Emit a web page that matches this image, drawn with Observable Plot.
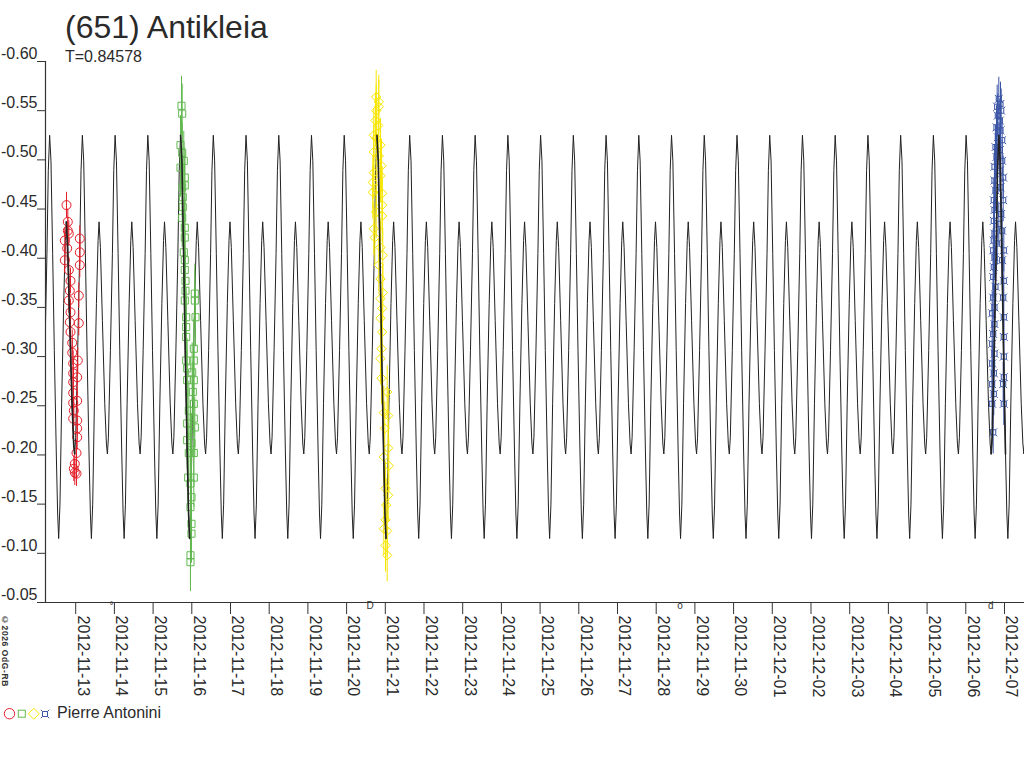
<!DOCTYPE html>
<html>
<head>
<meta charset="utf-8">
<script src="https://cdn.jsdelivr.net/npm/d3@7"></script>
<script src="https://cdn.jsdelivr.net/npm/@observablehq/plot@0.6"></script>
<style>
  body { margin: 0; background: #fff; font-family: "Liberation Sans", Arial, sans-serif; color: #2a2a2a; }
  #wrap { position: relative; width: 1024px; height: 768px; overflow: hidden; }
  #chart { position: absolute; left: 0; top: 0; }
  #title { position: absolute; left: 65px; top: 11px; font-size: 32px; line-height: 32px; white-space: nowrap; }
  #subtitle { position: absolute; left: 65px; top: 49px; font-size: 16px; line-height: 16px; white-space: nowrap; }
  #legend { position: absolute; left: 0; top: 700px; height: 24px; width: 300px; }
  #legend svg { position: absolute; left: 0; top: 0; }
  #legend span { position: absolute; left: 57px; top: 5px; font-size: 16px; line-height: 16px; white-space: nowrap; }
  #copy { position: absolute; left: 0px; top: 615px; font-size: 8.5px; line-height: 9px; font-weight: bold; letter-spacing: 0.6px; writing-mode: vertical-rl; white-space: nowrap; color: #333; }
</style>
</head>
<body>
<div id="wrap">
  <div id="chart"></div>
  <div id="title">(651) Antikleia</div>
  <div id="subtitle">T=0.84578</div>
  <div id="copy">©2026 OdG-RB</div>
  <div id="legend"></div>
</div>
<script>
// Times are JD − 2456240
const JD0 = 2456240;
const xDomainJd = [3.7196, 29.0171];
const yTicks = [-0.60, -0.55, -0.50, -0.45, -0.40, -0.35, -0.30, -0.25, -0.20, -0.15, -0.10, -0.05];
const xTickFirst = "2012-11-13";
const xTickLast = "2012-12-07";

// Model lightcurve: one cycle (phase from primary maximum)
const modelEpoch = 13.13;
const modelPeriod = 0.84578;
const modelPhase = [0, 0.041, 0.092, 0.143, 0.204, 0.245, 0.276, 0.316, 0.367, 0.429, 0.48, 0.51, 0.551, 0.612, 0.684, 0.735, 0.765, 0.796, 0.857, 0.918, 0.959];
const modelMag = [-0.525, -0.499, -0.405, -0.306, -0.201, -0.140, -0.115, -0.150, -0.252, -0.354, -0.418, -0.437, -0.411, -0.337, -0.252, -0.211, -0.201, -0.218, -0.306, -0.405, -0.489];

// Session 1 (red circles)
const redJd = [4.262, 4.296, 4.296, 4.218, 4.322, 4.280, 4.606, 4.606, 4.606, 4.218, 4.322, 4.366, 4.348, 4.580, 4.322, 4.366, 4.580, 4.348, 4.366, 4.410, 4.410, 4.554, 4.435, 4.435, 4.435, 4.539, 4.435, 4.539, 4.435, 4.451, 4.435, 4.539, 4.539, 4.539, 4.521, 4.477, 4.477, 4.451, 4.521];
const redMag = [-0.454, -0.437, -0.428, -0.418, -0.425, -0.410, -0.420, -0.406, -0.393, -0.398, -0.388, -0.377, -0.367, -0.362, -0.357, -0.345, -0.334, -0.335, -0.325, -0.314, -0.304, -0.296, -0.293, -0.283, -0.274, -0.279, -0.263, -0.255, -0.253, -0.245, -0.237, -0.235, -0.227, -0.218, -0.202, -0.191, -0.182, -0.186, -0.181];

// Session 2 (green squares)
const greenJd = [7.234, 7.252, 7.208, 7.252, 7.293, 7.208, 7.319, 7.252, 7.319, 7.267, 7.267, 7.252, 7.319, 7.319, 7.293, 7.319, 7.319, 7.337, 7.337, 7.578, 7.578, 7.319, 7.596, 7.355, 7.355, 7.355, 7.552, 7.355, 7.552, 7.381, 7.510, 7.552, 7.381, 7.526, 7.552, 7.423, 7.552, 7.381, 7.466, 7.578, 7.381, 7.492, 7.552, 7.423, 7.407, 7.552, 7.466, 7.492, 7.466, 7.492, 7.492, 7.466, 7.466];
const greenMag = [-0.555, -0.547, -0.515, -0.507, -0.499, -0.492, -0.482, -0.472, -0.474, -0.462, -0.452, -0.441, -0.431, -0.421, -0.406, -0.398, -0.388, -0.377, -0.367, -0.364, -0.357, -0.357, -0.340, -0.340, -0.330, -0.320, -0.308, -0.296, -0.296, -0.288, -0.284, -0.276, -0.276, -0.264, -0.252, -0.245, -0.237, -0.232, -0.225, -0.228, -0.215, -0.212, -0.202, -0.202, -0.177, -0.177, -0.171, -0.157, -0.147, -0.130, -0.120, -0.098, -0.091];

// Session 3 (yellow diamonds)
const yellowJd = [12.265, 12.332, 12.265, 12.332, 12.247, 12.317, 12.203, 12.265, 12.376, 12.203, 12.332, 12.402, 12.203, 12.376, 12.177, 12.265, 12.420, 12.177, 12.420, 12.265, 12.420, 12.203, 12.229, 12.376, 12.435, 12.332, 12.376, 12.435, 12.376, 12.420, 12.376, 12.420, 12.402, 12.376, 12.402, 12.549, 12.461, 12.575, 12.487, 12.575, 12.461, 12.591, 12.505, 12.575, 12.523, 12.505, 12.549, 12.461, 12.505, 12.549];
const yellowMag = [-0.564, -0.559, -0.550, -0.554, -0.540, -0.535, -0.525, -0.522, -0.515, -0.508, -0.504, -0.494, -0.487, -0.484, -0.477, -0.471, -0.466, -0.467, -0.454, -0.447, -0.443, -0.430, -0.421, -0.411, -0.403, -0.393, -0.379, -0.365, -0.359, -0.349, -0.339, -0.325, -0.308, -0.298, -0.278, -0.264, -0.243, -0.240, -0.227, -0.207, -0.198, -0.189, -0.166, -0.159, -0.149, -0.134, -0.123, -0.125, -0.108, -0.098];

// Session 4 (blue)
const blueJd = [28.353, 28.397, 28.311, 28.415, 28.327, 28.379, 28.293, 28.397, 28.327, 28.440, 28.267, 28.379, 28.293, 28.440, 28.241, 28.379, 28.241, 28.466, 28.267, 28.397, 28.224, 28.466, 28.241, 28.415, 28.224, 28.353, 28.241, 28.440, 28.224, 28.311, 28.208, 28.482, 28.241, 28.440, 28.224, 28.208, 28.482, 28.267, 28.208, 28.466, 28.241, 28.182, 28.482, 28.241, 28.208, 28.482, 28.182, 28.241, 28.482, 28.182, 28.224, 28.482, 28.182, 28.466, 28.224, 28.482, 28.182, 28.208];
const blueMag = [-0.562, -0.557, -0.554, -0.550, -0.545, -0.540, -0.533, -0.530, -0.523, -0.520, -0.513, -0.510, -0.503, -0.499, -0.493, -0.489, -0.479, -0.482, -0.469, -0.472, -0.459, -0.459, -0.449, -0.445, -0.438, -0.435, -0.425, -0.428, -0.418, -0.415, -0.408, -0.408, -0.401, -0.398, -0.391, -0.381, -0.377, -0.371, -0.360, -0.360, -0.350, -0.344, -0.340, -0.333, -0.323, -0.320, -0.313, -0.303, -0.300, -0.293, -0.283, -0.279, -0.272, -0.272, -0.262, -0.252, -0.252, -0.223];

// Per-session error (mag) and model span over the session (JD − 2456240)
const sessionErr = [0.013, 0.030, 0.027, 0.022];
const sessionSpanStart = [4.25, 7.20, 12.28, 28.15];
const sessionSpanEnd = [4.48, 7.45, 12.52, 28.53];

// Moon phases
const moonDates = ["2012-11-13T22:08Z", "2012-11-20T14:31Z", "2012-11-28T14:46Z", "2012-12-06T15:31Z"];
const moonGlyphs = ["°", "D", "o", "d"];

const observer = "Pierre Antonini";

// ---- styles (kept apart from data) ----
const colors = ["#e4202a", "#63b950", "#f6e500", "#3a55a6"];
const symCross = {
  draw(ctx, size) {
    const s = Math.sqrt(size) * 0.36, e = s * 1.55;
    ctx.moveTo(-s, -s); ctx.lineTo(s, -s); ctx.lineTo(s, s); ctx.lineTo(-s, s); ctx.closePath();
    ctx.moveTo(-s, -s); ctx.lineTo(-e, -e);
    ctx.moveTo(s, -s); ctx.lineTo(e, -e);
    ctx.moveTo(s, s); ctx.lineTo(e, e);
    ctx.moveTo(-s, s); ctx.lineTo(-e, e);
  }
};
const symbols = ["circle", "square", "diamond2", symCross];
const radii = [4.5, 4, 4.2, 4];

const toDate = j => new Date((JD0 + j - 2440587.5) * 864e5);

const sessJd = [redJd, greenJd, yellowJd, blueJd];
const sessMag = [redMag, greenMag, yellowMag, blueMag];

const model = [];
for (let k = -12; k <= 19; k++) {
  modelPhase.forEach((p, i) => {
    const j = modelEpoch + (k + p) * modelPeriod;
    if (j > xDomainJd[0] - 1 && j < xDomainJd[1] + 1) model.push({date: toDate(j), jd: j, mag: modelMag[i]});
  });
}
const modelSeg = [];
sessionSpanStart.forEach((s, si) => {
  model.filter(d => d.jd >= s && d.jd <= sessionSpanEnd[si]).forEach(d => modelSeg.push({...d, s: si}));
});

const sessMarks = [];
sessJd.forEach((jds, si) => {
  const data = jds.map((j, i) => ({date: toDate(j), mag: sessMag[si][i], err: sessionErr[si]}));
  sessMarks.push(Plot.ruleX(data, {x: "date", y1: d => d.mag - d.err, y2: d => d.mag + d.err, stroke: colors[si], strokeWidth: 1}));
  sessMarks.push(Plot.dot(data, {x: "date", y: "mag", symbol: symbols[si], r: radii[si], stroke: colors[si], strokeWidth: 1, fill: "none"}));
});

const xTicks = d3.utcDay.range(new Date(xTickFirst + "T00:00Z"), d3.utcDay.offset(new Date(xTickLast + "T00:00Z"), 1));
const axisColor = "#333";

const chart = Plot.plot({
  width: 1024,
  height: 768,
  marginLeft: 45,
  marginRight: 0,
  marginTop: 61,
  marginBottom: 166,
  style: {fontFamily: "'Liberation Sans', Arial, sans-serif", fontSize: "16px", color: "#2a2a2a", background: "transparent", overflow: "visible"},
  x: {type: "utc", domain: xDomainJd.map(toDate), label: null},
  y: {domain: [-0.60, -0.05], reverse: true, label: null},
  marks: [
    Plot.line(model, {x: "date", y: "mag", stroke: "#222", strokeWidth: 1, clip: true}),
    ...sessMarks,
    Plot.line(modelSeg, {x: "date", y: "mag", z: "s", stroke: "#222", strokeWidth: 1.6}),
    Plot.ruleY([-0.05], {stroke: axisColor, strokeWidth: 1.2}),
    Plot.ruleX([toDate(xDomainJd[0])], {y1: -0.60, y2: -0.05, stroke: axisColor, strokeWidth: 1.2}),
    Plot.axisY({ticks: yTicks, tickSize: 8, fill: "none", stroke: axisColor}),
    Plot.axisY({ticks: yTicks, tickSize: 0, tickPadding: 8, tickFormat: d => d.toFixed(2), dy: -7.5, fontSize: 16, fill: "#2a2a2a"}),
    Plot.axisX({ticks: xTicks, tickSize: 12, fill: "none", stroke: axisColor}),
    Plot.axisX({ticks: xTicks, tickSize: 0, tickPadding: 13, tickRotate: 90, textAnchor: "start", tickFormat: d3.utcFormat("%Y-%m-%d"), dx: 7, fontSize: 16, fill: "#2a2a2a"}),
    Plot.text(moonDates, {x: d => new Date(d), text: (d, i) => moonGlyphs[i], frameAnchor: "bottom", dy: 6, fontSize: 10, fill: "#333"})
  ]
});
document.getElementById("chart").appendChild(chart);

// Legend
const leg = document.getElementById("legend");
leg.innerHTML = `<svg width="52" height="24" viewBox="0 0 52 24">
  <circle cx="9.5" cy="13.7" r="5.2" fill="none" stroke="${colors[0]}" stroke-width="1"/>
  <rect x="18.3" y="10.2" width="7" height="7" fill="none" stroke="${colors[1]}" stroke-width="1"/>
  <path d="M33.8,8.3 L39.3,13.8 L33.8,19.3 L28.3,13.8 Z" fill="none" stroke="${colors[2]}" stroke-width="1"/>
  <path d="M42.5,11.5 H47.5 V16.5 H42.5 Z M42.5,11.5 L40.8,9.8 M47.5,11.5 L49.2,9.8 M47.5,16.5 L49.2,18.2 M42.5,16.5 L40.8,18.2" fill="none" stroke="${colors[3]}" stroke-width="1"/>
</svg><span>${observer}</span>`;
</script>
</body>
</html>
